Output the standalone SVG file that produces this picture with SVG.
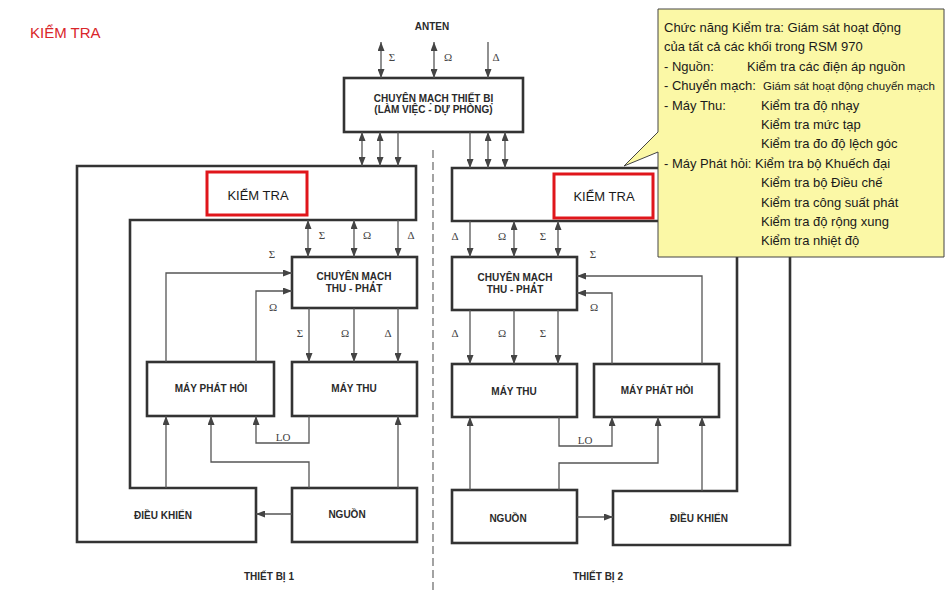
<svg xmlns="http://www.w3.org/2000/svg" width="950" height="600" viewBox="0 0 950 600">
<defs>
<marker id="ah" markerUnits="userSpaceOnUse" markerWidth="9" markerHeight="7" refX="9" refY="3.5" orient="auto-start-reverse">
<path d="M0,0 L9,3.5 L0,7 z" fill="#444"/>
</marker>
<style>
.box{fill:#fff;stroke:#333;stroke-width:2.6}
.red{fill:none;stroke:#e0161b;stroke-width:3}
.lbl{font-family:"Liberation Sans",Arial,sans-serif;font-weight:bold;font-size:10px;fill:#2a2a2a;text-anchor:middle}
.kt{font-family:"Liberation Sans",Arial,sans-serif;font-size:13px;fill:#1a1a1a;text-anchor:middle}
.sym{font-family:"Liberation Serif","Times New Roman",serif;font-size:11px;fill:#444;text-anchor:middle}
.c{fill:none;stroke:#555;stroke-width:1.3}
.s{marker-end:url(#ah)}
.d{marker-start:url(#ah);marker-end:url(#ah)}
.ct{font-family:"Liberation Sans",Arial,sans-serif;font-size:13px;fill:#1a1a1a}
.ct2{font-family:"Liberation Sans",Arial,sans-serif;font-size:11.5px;fill:#1a1a1a}
</style>
</defs>
<rect width="950" height="600" fill="#fff"/>
<text x="30" y="38" font-family="'Liberation Sans',Arial,sans-serif" font-size="15" fill="#d9262a">KIỂM TRA</text>
<text x="432" y="29.5" class="lbl">ANTEN</text>
<line x1="433" y1="150" x2="433" y2="592" stroke="#666" stroke-width="1.2" stroke-dasharray="8 4"/>

<g id="cm-thiet-bi">
<rect class="box" x="344" y="78" width="179" height="54"/>
<text class="lbl" x="433.5" y="101.5">CHUYÊN MẠCH THIẾT BỊ</text>
<text class="lbl" x="433.5" y="112.5">(LÀM VIỆC - DỰ PHÒNG)</text>
</g>

<g id="kiem-tra-1">
<path class="box" d="M77,166 H416 V220 H130 V488 H256 V542 H77 Z"/>
<rect class="red" x="207" y="172" width="100" height="43"/>
<text class="kt" x="258" y="199.5">KIỂM TRA</text>
<text class="lbl" x="163" y="518.5">ĐIỀU KHIỂN</text>
</g>
<g id="cm-thu-phat-1">
<rect class="box" x="292" y="257" width="125" height="51"/>
<text class="lbl" x="354" y="280">CHUYÊN MẠCH</text>
<text class="lbl" x="354" y="291.5">THU - PHÁT</text>
</g>
<g id="may-phat-hoi-1">
<rect class="box" x="147" y="362" width="127" height="54"/>
<text class="lbl" x="211" y="392">MÁY PHÁT HỎI</text>
</g>
<g id="may-thu-1">
<rect class="box" x="292" y="362" width="125" height="54"/>
<text class="lbl" x="354" y="392">MÁY THU</text>
</g>
<g id="nguon-1">
<rect class="box" x="292" y="488" width="125" height="54"/>
<text class="lbl" x="347" y="518">NGUỒN</text>
</g>
<text class="lbl" x="269" y="579.5">THIẾT BỊ 1</text>

<g id="kiem-tra-2">
<path class="box" d="M452,168 H790 V545 H613 V491 H737 V221 H452 Z"/>
<rect class="red" x="554" y="174" width="99" height="44"/>
<text class="kt" x="604" y="201">KIỂM TRA</text>
<text class="lbl" x="699" y="522">ĐIỀU KHIỂN</text>
</g>
<g id="cm-thu-phat-2">
<rect class="box" x="452" y="257" width="125" height="53"/>
<text class="lbl" x="515" y="281">CHUYÊN MẠCH</text>
<text class="lbl" x="515" y="293">THU - PHÁT</text>
</g>
<g id="may-thu-2">
<rect class="box" x="452" y="364" width="125" height="53"/>
<text class="lbl" x="514" y="394.5">MÁY THU</text>
</g>
<g id="may-phat-hoi-2">
<rect class="box" x="594" y="364" width="125" height="53"/>
<text class="lbl" x="657" y="393.5">MÁY PHÁT HỎI</text>
</g>
<g id="nguon-2">
<rect class="box" x="452" y="490" width="125" height="53"/>
<text class="lbl" x="508" y="521.5">NGUỒN</text>
</g>
<text class="lbl" x="598" y="579.5">THIẾT BỊ 2</text>

<g id="connectors">
<path class="c d" d="M381,42 V78"/>
<path class="c d" d="M434,42 V78"/>
<path class="c s" d="M488,42 V78"/>
<path class="c d" d="M362,132 V166"/>
<path class="c d" d="M380,132 V166"/>
<path class="c s" d="M398,132 V166"/>
<path class="c s" d="M470,132 V168"/>
<path class="c d" d="M488,132 V168"/>
<path class="c d" d="M505,132 V168"/>
<path class="c d" d="M308,220 V257"/>
<path class="c d" d="M354,220 V257"/>
<path class="c s" d="M398,220 V257"/>
<path class="c s" d="M309,308 V362"/>
<path class="c s" d="M354,308 V362"/>
<path class="c s" d="M398,308 V362"/>
<path class="c s" d="M166,362 V273 H292"/>
<path class="c s" d="M256,362 V291 H292"/>
<path class="c s" d="M166,488 V416"/>
<path class="c s" d="M309,488 V462 H211 V416"/>
<path class="c s" d="M309,416 V443 H256 V416"/>
<path class="c s" d="M398,488 V416"/>
<path class="c s" d="M292,514 H256"/>
<path class="c s" d="M470,221 V257"/>
<path class="c d" d="M514,221 V257"/>
<path class="c d" d="M558,221 V257"/>
<path class="c s" d="M470,310 V364"/>
<path class="c s" d="M514,310 V364"/>
<path class="c s" d="M558,310 V364"/>
<path class="c s" d="M612,364 V293 H577"/>
<path class="c s" d="M702,364 V276 H577"/>
<path class="c s" d="M470,490 V417"/>
<path class="c s" d="M559,490 V463 H658 V417"/>
<path class="c s" d="M559,417 V446 H612 V417"/>
<path class="c s" d="M702,491 V417"/>
<path class="c s" d="M577,517 H613"/>
</g>

<g id="connector-labels">
<text class="sym" x="392" y="61">Σ</text>
<text class="sym" x="448" y="61">Ω</text>
<text class="sym" x="496" y="61">Δ</text>
<text class="sym" x="322" y="239">Σ</text>
<text class="sym" x="367" y="239">Ω</text>
<text class="sym" x="411" y="239">Δ</text>
<text class="sym" x="272" y="258">Σ</text>
<text class="sym" x="273" y="311">Ω</text>
<text class="sym" x="300" y="337">Σ</text>
<text class="sym" x="345" y="337">Ω</text>
<text class="sym" x="388" y="337">Δ</text>
<text class="sym" x="283" y="441">LO</text>
<text class="sym" x="455" y="240">Δ</text>
<text class="sym" x="502" y="240">Ω</text>
<text class="sym" x="543" y="240">Σ</text>
<text class="sym" x="593" y="258">Σ</text>
<text class="sym" x="594" y="311">Ω</text>
<text class="sym" x="455" y="337">Δ</text>
<text class="sym" x="502" y="337">Ω</text>
<text class="sym" x="543" y="337">Σ</text>
<text class="sym" x="585" y="444">LO</text>
</g>

<g id="callout">
<path d="M658,9 H944 V257 H658 V152 L624,166 L658,132 Z" fill="#fbf8a6" stroke="#444" stroke-width="1"/>
<text class="ct" x="664" y="32">Chức năng Kiểm tra: Giám sát hoạt động</text>
<text class="ct" x="664" y="51.4">của tất cả các khối trong RSM 970</text>
<text class="ct" x="664" y="70.8">- Nguồn:</text>
<text class="ct" x="747" y="70.8">Kiểm tra các điện áp nguồn</text>
<text class="ct" x="664" y="90.2">- Chuyển mạch:</text>
<text class="ct2" x="763" y="90.2" textLength="172" lengthAdjust="spacingAndGlyphs">Giám sát hoạt động chuyển mạch</text>
<text class="ct" x="664" y="109.6">- Máy Thu:</text>
<text class="ct" x="761" y="109.6">Kiểm tra độ nhạy</text>
<text class="ct" x="761" y="129">Kiểm tra mức tạp</text>
<text class="ct" x="761" y="148.4">Kiểm tra đo độ lệch góc</text>
<text class="ct" x="664" y="167.8">- Máy Phát hỏi: Kiểm tra bộ Khuếch đại</text>
<text class="ct" x="761" y="187.2">Kiểm tra bộ Điều chế</text>
<text class="ct" x="761" y="206.6">Kiểm tra công suất phát</text>
<text class="ct" x="761" y="226">Kiểm tra độ rộng xung</text>
<text class="ct" x="761" y="245.4">Kiểm tra nhiệt độ</text>
</g>
</svg>
